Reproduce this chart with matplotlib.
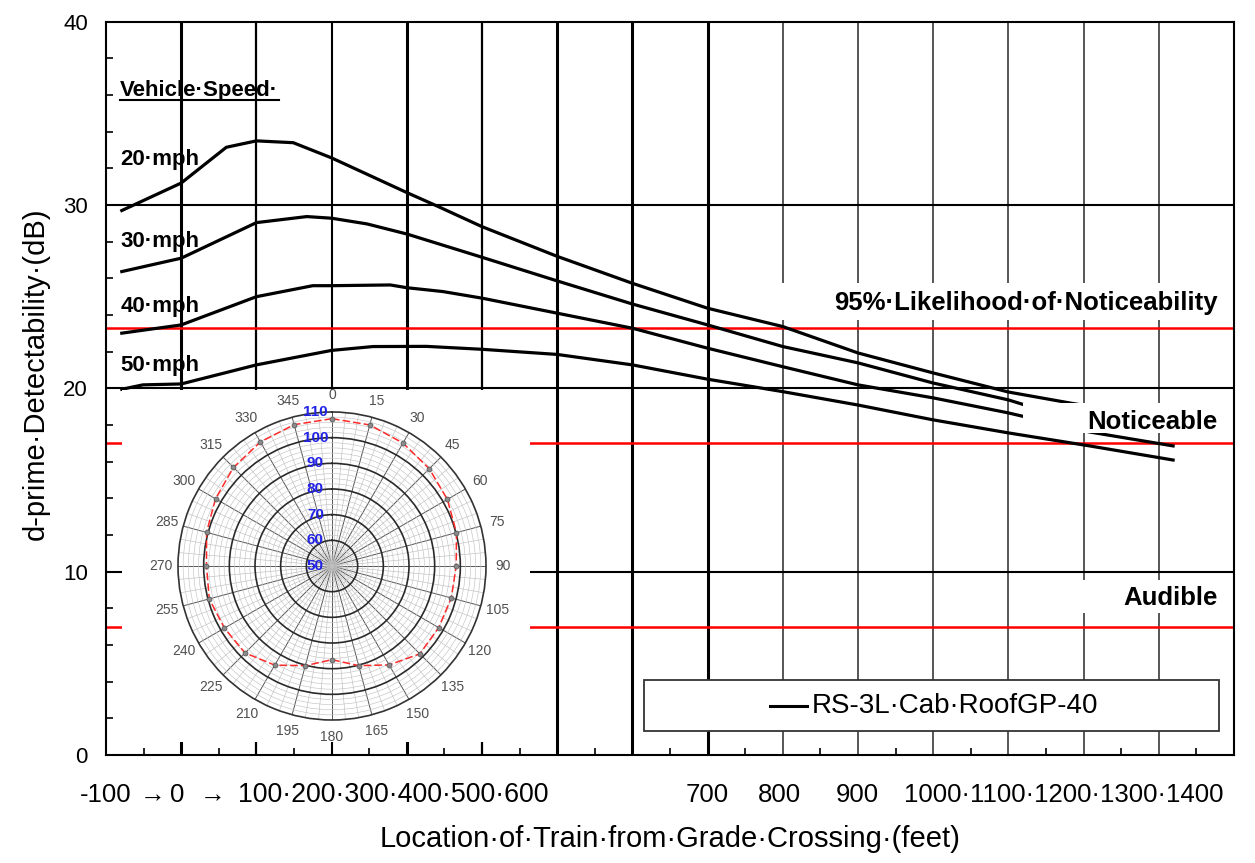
import matplotlib
matplotlib.use("Agg")
import matplotlib.pyplot as plt
import numpy as np
from matplotlib.patches import Rectangle
from matplotlib.lines import Line2D
from matplotlib.transforms import offset_copy

plt.rcParams['font.family'] = ['Liberation Sans', 'DejaVu Sans']

W, H = 1255, 863

# train position (ft) vs d-prime detectability (dB) for each vehicle speed
x_20 = [-79, 0, 60, 100, 149, 200, 300, 340, 400, 500, 600, 700, 800, 900, 1000, 1100, 1182, 1240]
d_20 = [29.7, 31.2, 33.15, 33.5, 33.4, 32.57, 30.68, 29.95, 28.82, 27.2, 25.73, 24.37, 23.37, 21.93, 20.84, 19.8, 19.2, 18.8]

x_30 = [-79, 0, 100, 167, 200, 247, 300, 400, 500, 600, 700, 800, 900, 1000, 1100, 1122, 1235]
d_30 = [26.37, 27.1, 29.04, 29.37, 29.28, 28.97, 28.42, 27.15, 25.86, 24.6, 23.46, 22.28, 21.39, 20.29, 19.37, 19.09, 17.9]

x_40 = [-79, 0, 100, 175, 200, 278, 300, 348, 400, 500, 600, 700, 800, 900, 1000, 1100, 1208, 1319]
d_40 = [23.01, 23.46, 25.0, 25.6, 25.6, 25.64, 25.49, 25.28, 24.92, 24.1, 23.28, 22.19, 21.18, 20.19, 19.48, 18.66, 17.62, 16.86]

x_50 = [-79, -51, 0, 100, 200, 255, 326, 400, 500, 600, 700, 800, 900, 1000, 1100, 1208, 1319]
d_50 = [19.95, 20.19, 20.24, 21.28, 22.07, 22.28, 22.29, 22.13, 21.85, 21.28, 20.5, 19.82, 19.09, 18.28, 17.57, 16.86, 16.09]

speeds = ["20·mph", "30·mph", "40·mph", "50·mph"]
speed_label_y = [32.46, 28.0, 24.46, 21.22]

# detectability thresholds
thresholds = [23.3, 17.0, 7.0]
threshold_names = ["95%·Likelihood·of·Noticeability", "Noticeable", "Audible"]

# horn directivity (dB) around the locomotive
polar_deg = [0, 15, 30, 45, 60, 75, 90, 105, 120, 135, 150, 165,
             180, 195, 210, 225, 240, 255, 270, 285, 300, 315, 330, 345]
polar_db = [107.4, 106.9, 105.3, 103.6, 101.9, 100.2, 98.4, 98.1, 98.0, 98.4, 94.5, 90.2,
            86.5, 90.2, 94.6, 97.9, 98.4, 99.5, 98.9, 100.6, 102.4, 104.3, 105.8, 107.0]
polar_rings = [50, 60, 70, 80, 90, 100, 110]

# hand-typed axis labels under the chart
tick_strings = ["-100", "→", "0", "→", "100·200·300·400·500·600",
                "700", "800", "900", "1000·1100·1200·1300·1400"]
tick_left_px = [80, 140, 170, 200, 238, 686, 758, 836, 904]
tick_size = [18.5, 18.5, 18.5, 18.5, 19.3, 18.5, 18.5, 18.5, 18.5]


def fxy(px, py):
    return px / W, 1 - py / H


fig = plt.figure(figsize=(W / 100, H / 100), dpi=100)
ax = fig.add_axes([106 / W, 1 - 755 / H, (1234 - 106) / W, (755 - 21.7) / H])
ax.set_xlim(-100, 1400)
ax.set_ylim(0, 40)

# grid drawn by hand so each line can get its own weight
grid_ft = list(range(0, 1400, 100))
grid_lw = [2.2, 1.6, 1.5, 2.2, 1.6, 2.2, 2.2, 2.2, 1.2, 1.2, 1.2, 1.2, 1.2, 1.2]
grid_col = ['k'] * 8 + ['#3a3a3a'] * 6
for gx, lw, c in zip(grid_ft, grid_lw, grid_col):
    ax.axvline(gx, color=c, lw=lw, zorder=1)
for gy in [10, 20, 30]:
    ax.axhline(gy, color='k', lw=1.5, zorder=1)
for t in thresholds:
    ax.axhline(t, color='#ff0000', lw=1.8, zorder=1.2)

for xs, ds in [(x_20, d_20), (x_30, d_30), (x_40, d_40), (x_50, d_50)]:
    ax.plot(xs, ds, color='k', lw=2.3, zorder=2, solid_joinstyle='round')

# white backing of the pasted directivity plot
x0, y0 = fxy(122, 742)
x1, y1 = fxy(530, 390)
ax.add_patch(Rectangle((x0, y0), x1 - x0, y1 - y0, transform=fig.transFigure,
                       facecolor='white', edgecolor='none', zorder=2.3, clip_on=False))

ax.set_axisbelow(False)
ax.set_xticks([])
ax.set_xticks(np.arange(-50, 1400, 100), minor=True)
ax.set_yticks([0, 10, 20, 30, 40])
ax.set_yticklabels(["0", "10", "20", "30", "40"], fontsize=16)
ax.set_yticks([v for v in range(2, 40, 2) if v % 10], minor=True)
ax.tick_params(axis='y', which='major', length=0, pad=13)
ax.tick_params(axis='both', which='minor', direction='in', length=5, width=1.2,
               top=False, right=False)
for s in ax.spines.values():
    s.set_linewidth(1.5)
    s.set_color('k')

ax.set_ylabel("d-prime·Detectability·(dB)", fontsize=21)
ax.yaxis.set_label_coords(-0.05, 0.52)
ax.set_xlabel("Location·of·Train·from·Grade·Crossing·(feet)", fontsize=21)
ax.xaxis.set_label_coords(0.5, -0.096)

for s, lp, fs in zip(tick_strings, tick_left_px, tick_size):
    fx, fy = fxy(lp, 795)
    fig.text(fx, fy, s, ha='left', va='center', fontsize=fs)

# speed labels
vs = ax.text(-81, 36.24, "Vehicle·Speed·", fontsize=16, fontweight='bold',
             ha='left', va='center', zorder=4)
for name, yy in zip(speeds, speed_label_y):
    ax.text(-81, yy, name, fontsize=16, fontweight='bold', ha='left', va='center', zorder=4)

# threshold labels on white boxes
boxes = [(790, 23.73, 1392, 25.75), (1119, 17.57, 1392, 19.2), (1115, 7.75, 1392, 9.55)]
label_y = [24.66, 18.18, 8.57]
for (bx0, by0, bx1, by1), name, yy in zip(boxes, threshold_names, label_y):
    ax.add_patch(Rectangle((bx0, by0), bx1 - bx0, by1 - by0, facecolor='white',
                           edgecolor='none', zorder=3))
    ax.text(1378.7, yy, name, fontsize=18.5, fontweight='bold', ha='right',
            va='center', zorder=4)

# legend box
ax.add_patch(Rectangle((615.4, 1.31), 764.6, 2.78, facecolor='white',
                       edgecolor='#333333', lw=1.3, zorder=3))
ax.plot([783, 832], [2.67, 2.67], color='k', lw=2.2, zorder=4)
ax.text(838.8, 2.67, "RS-3L·Cab·RoofGP-40", fontsize=20, ha='left', va='center', zorder=4)

# directivity inset
cx, cy, rad = 332, 566, 154
pl, pb = fxy(cx - rad, cy + rad)
pax = fig.add_axes([pl, pb, 2 * rad / W, 2 * rad / H], projection='polar')
pax.set_theta_zero_location('N')
pax.set_theta_direction(-1)
pax.set_rlim(polar_rings[0], polar_rings[-1])
pax.set_xticks(np.deg2rad(polar_deg))
pax.set_xticklabels([])
pax.set_xticks(np.deg2rad(np.arange(0, 360, 5)), minor=True)
pax.set_yticks(polar_rings[1:-1])
pax.set_yticklabels([])
pax.set_yticks(np.arange(52, 110, 2), minor=True)
pax.tick_params(axis='both', which='both', length=0)
pax.grid(True, which='major', axis='x', color='#555555', lw=0.7)
pax.grid(True, which='minor', axis='x', color='#c0c0c0', lw=0.45)
pax.grid(True, which='major', axis='y', color='#2a2a2a', lw=1.2)
pax.grid(True, which='minor', axis='y', color='#c4c4c4', lw=0.45)
pax.spines['polar'].set_color('#333333')
pax.spines['polar'].set_linewidth(1.2)
pax.set_facecolor('white')

th = np.deg2rad(polar_deg + [polar_deg[0]])
rr = polar_db + [polar_db[0]]
pax.plot(th, rr, color='#ff2a2a', lw=1.1, ls=(0, (5, 2)), zorder=3)
pax.plot(th[:-1], rr[:-1], 'o', ms=3.5, color='#8a8a8a', mec='#5a5a5a', mew=0.6, zorder=4)

for d in polar_deg:
    pax.text(np.deg2rad(d), 116.6, str(d), fontsize=10, color='#505050',
             ha='center', va='center', clip_on=False)
shift = offset_copy(pax.transData, fig=fig, x=-12, y=0, units='points')
for r in polar_rings:
    pax.text(0, r, str(r), transform=shift, fontsize=11, fontweight='bold',
             color='#2323e6', ha='center', va='center', zorder=5)

# underline for the legend heading
fig.canvas.draw()
bb = vs.get_window_extent()
ax.add_line(Line2D([bb.x0 / W, bb.x1 / W], [(bb.y0 + 1) / H, (bb.y0 + 1) / H],
                   transform=fig.transFigure, color='k', lw=1.5, zorder=4, clip_on=False))

fig.savefig("out.png", dpi=100)
